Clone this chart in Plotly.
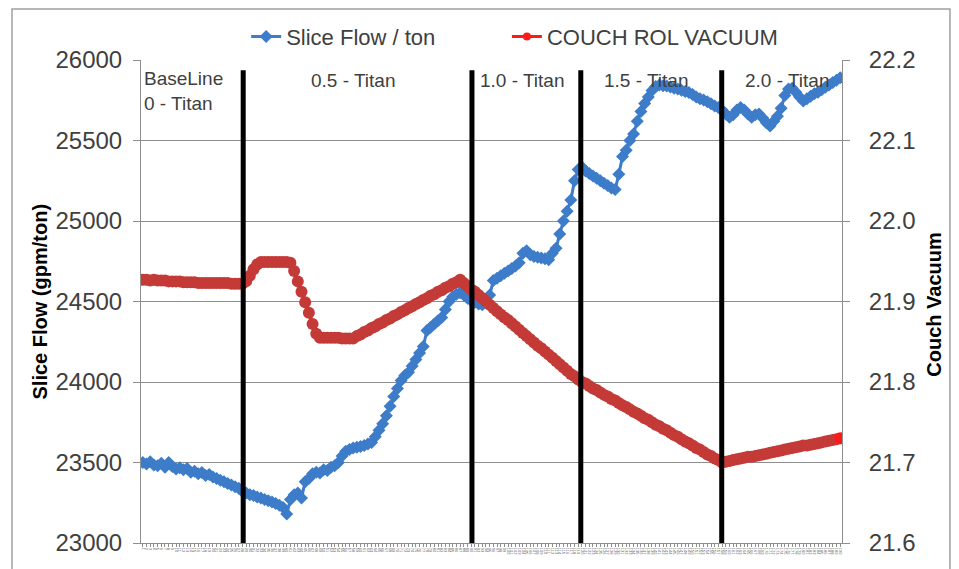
import plotly.graph_objects as go

# ---------------- data ----------------
slice_flow = [
    23500, 23490, 23505, 23485, 23480, 23495, 23470, 23500, 23475, 23460,
    23468, 23455, 23462, 23440, 23445, 23430, 23438, 23420, 23425, 23410,
    23400, 23390, 23380, 23370, 23360, 23350, 23340, 23320,
    23310, 23300, 23295, 23285, 23280, 23270, 23262, 23255, 23245, 23235,
    23220, 23180, 23270, 23300, 23310, 23280, 23380, 23400, 23430, 23440,
    23435, 23455, 23450, 23470, 23480, 23500, 23540, 23570, 23580, 23590,
    23595, 23600, 23605, 23615, 23625, 23660, 23700, 23740, 23790, 23850,
    23910, 23960, 24010, 24040, 24060, 24100, 24140, 24180, 24220, 24320,
    24340, 24360, 24380, 24400, 24450, 24500, 24530, 24545, 24555, 24540,
    24520,
    24505, 24495, 24485, 24480, 24510, 24540, 24630, 24645, 24660, 24675,
    24690, 24705, 24720, 24740, 24800, 24815, 24790, 24780, 24775, 24770,
    24765, 24760, 24800, 24830, 24920, 25000, 25060, 25130, 25250, 25320,
    25335, 25310, 25295, 25280, 25265, 25250, 25235, 25220, 25205, 25195,
    25290, 25400, 25440, 25500, 25540, 25620, 25680, 25730, 25770, 25810,
    25835, 25845, 25840, 25838, 25832, 25825, 25820, 25812, 25805, 25798,
    25785, 25770, 25760, 25752, 25740, 25728, 25715, 25705,
    25690, 25665, 25645, 25660, 25690, 25705, 25690, 25665, 25645, 25660,
    25665, 25640, 25610, 25590, 25620, 25650, 25700, 25780, 25820, 25825,
    25800, 25770, 25745, 25760, 25775, 25790, 25800, 25815, 25830, 25845,
    25860, 25875, 25890,
]

couch_vacuum = [
    21.927, 21.927, 21.926, 21.927, 21.926, 21.926, 21.926, 21.925, 21.925, 21.925,
    21.925, 21.924, 21.924, 21.924, 21.924, 21.923, 21.923, 21.923, 21.923, 21.923,
    21.923, 21.923, 21.923, 21.923, 21.922, 21.922, 21.922, 21.922,
    21.925, 21.932, 21.940, 21.946, 21.949, 21.949, 21.949, 21.949, 21.949, 21.949,
    21.949, 21.949, 21.948, 21.938, 21.925, 21.912, 21.899, 21.886, 21.872, 21.860,
    21.855, 21.855, 21.855, 21.855, 21.855, 21.855, 21.854, 21.854, 21.854, 21.854,
    21.857, 21.859, 21.862, 21.864, 21.867, 21.869, 21.872, 21.874, 21.877, 21.879,
    21.882, 21.884, 21.887, 21.889, 21.892, 21.894, 21.897, 21.899, 21.902, 21.904,
    21.907, 21.909, 21.912, 21.914, 21.917, 21.919, 21.922, 21.924, 21.927, 21.923,
    21.919,
    21.915, 21.912, 21.908, 21.904, 21.900, 21.896, 21.892, 21.888, 21.884, 21.880,
    21.877, 21.873, 21.869, 21.865, 21.861, 21.857, 21.853, 21.849, 21.845, 21.842,
    21.838, 21.834, 21.830, 21.826, 21.822, 21.818, 21.814, 21.810, 21.807, 21.803,
    21.800, 21.798, 21.795, 21.792, 21.790, 21.787, 21.784, 21.782, 21.779, 21.777,
    21.774, 21.771, 21.769, 21.766, 21.763, 21.761, 21.758, 21.755, 21.753, 21.750,
    21.747, 21.745, 21.742, 21.740, 21.737, 21.734, 21.732, 21.729, 21.726, 21.724,
    21.721, 21.718, 21.716, 21.713, 21.710, 21.708, 21.705, 21.703,
    21.700, 21.701, 21.702, 21.703, 21.704, 21.705, 21.706, 21.707, 21.707, 21.708,
    21.709, 21.710, 21.711, 21.712, 21.713, 21.714, 21.715, 21.716, 21.717, 21.718,
    21.719, 21.720, 21.721, 21.721, 21.722, 21.723, 21.724, 21.725, 21.726, 21.727,
    21.728, 21.729, 21.730,
]

sample_labels = [str(i + 1) for i in range(max(len(slice_flow), len(couch_vacuum)))]

phase_names = ["BaseLine<br>0 - Titan", "0.5 - Titan", "1.0 - Titan", "1.5 - Titan", "2.0 - Titan"]
phase_label_x = [-0.2, 57.0, 103.0, 136.4, 174.6]
phase_boundaries = [27.2, 89.2, 118.7, 156.9]

left_ticks = [23000, 23500, 24000, 24500, 25000, 25500, 26000]
right_ticks = [21.6, 21.7, 21.8, 21.9, 22.0, 22.1, 22.2]

# ---------------- figure ----------------
FONT = "Liberation Sans, Arial, sans-serif"
TXT = "#404040"
GRID = "#8e8e8e"
BLUE = "#3d7cc9"
RED_BAND = "rgb(196,58,55)"
RED = "#ff1a1a"

n = len(sample_labels)
x_idx = list(range(n))

fig = go.Figure()

fig.add_trace(go.Scatter(
    x=list(range(len(slice_flow))), y=slice_flow, name="Slice Flow / ton",
    mode="lines+markers",
    line=dict(color=BLUE, width=3),
    marker=dict(symbol="diamond", size=10, color=BLUE),
    yaxis="y", legend="legend",
))

# legend-only entry for the vacuum series
fig.add_trace(go.Scatter(
    x=[None], y=[None], name="COUCH ROL VACUUM", mode="lines+markers",
    line=dict(color=RED, width=3), marker=dict(symbol="circle", size=8, color=RED),
    yaxis="y2", legend="legend2",
))

vac_colors = [RED_BAND] * (len(couch_vacuum) - 1) + [RED]
fig.add_trace(go.Scatter(
    x=list(range(len(couch_vacuum))), y=couch_vacuum, name="COUCH ROL VACUUM",
    mode="lines+markers", showlegend=False,
    line=dict(color=RED_BAND, width=4),
    marker=dict(symbol="circle", size=12, color=vac_colors, line=dict(width=0)),
    yaxis="y2",
))

shapes = []
for b in phase_boundaries:
    shapes.append(dict(type="line", xref="x", yref="paper", x0=b, x1=b, y0=0, y1=0.979,
                       line=dict(color="black", width=5), layer="above"))
# outer chart frame
shapes.append(dict(type="rect", xref="paper", yref="paper",
                   x0=-0.184, x1=1.154, y0=-0.3, y1=1.1056,
                   line=dict(color="#a0a0a0", width=1.5), layer="below"))

annotations = []
for i, (name, xp) in enumerate(zip(phase_names, phase_label_x)):
    if i == 0:
        annotations.append(dict(x=xp, y=0.935, xref="x", yref="paper", text=name,
                                showarrow=False, xanchor="left", yanchor="middle", align="left",
                                font=dict(family=FONT, size=19, color=TXT)))
    else:
        annotations.append(dict(x=xp, y=0.958, xref="x", yref="paper", text=name,
                                showarrow=False, xanchor="center", yanchor="middle",
                                font=dict(family=FONT, size=19, color=TXT)))

annotations.append(dict(x=-0.1455, y=0.5, xref="paper", yref="paper", text="<b>Slice Flow (gpm/ton)</b>",
                        textangle=-90, showarrow=False, xanchor="center", yanchor="middle",
                        font=dict(family=FONT, size=20, color="#000000")))
annotations.append(dict(x=1.131, y=0.493, xref="paper", yref="paper", text="<b>Couch Vacuum</b>",
                        textangle=-90, showarrow=False, xanchor="center", yanchor="middle",
                        font=dict(family=FONT, size=20, color="#000000")))

legend_common = dict(orientation="h", xanchor="left", y=1.048, yanchor="middle",
                     font=dict(family=FONT, size=22, color=TXT), bgcolor="rgba(0,0,0,0)")

# the page body adds an 8px offset, so the figure is sized/margined to compensate
fig.update_layout(
    width=951, height=561, autosize=False,
    margin=dict(l=133, r=117, t=52, b=26, autoexpand=False),
    paper_bgcolor="white", plot_bgcolor="white",
    font=dict(family=FONT, color=TXT),
    showlegend=True,
    legend=dict(x=0.150, **legend_common),
    legend2=dict(x=0.522, **legend_common),
    xaxis=dict(range=[-0.5, n - 0.5], showgrid=False, zeroline=False, automargin=False,
               showline=True, linecolor=GRID, linewidth=1,
               tickmode="array", tickvals=x_idx, ticktext=sample_labels,
               tickangle=90, tickfont=dict(size=4, color="#606060"),
               ticks="outside", ticklen=3, tickcolor=GRID),
    yaxis=dict(range=[23000, 26000], tickmode="array", tickvals=left_ticks, tickformat="d",
               showgrid=True, gridcolor=GRID, gridwidth=1, zeroline=False, automargin=False,
               showline=True, linecolor=GRID, ticks="outside", ticklen=7, tickcolor=GRID,
               ticklabelstandoff=6,
               tickfont=dict(family=FONT, size=24, color=TXT)),
    yaxis2=dict(range=[21.6, 22.2], overlaying="y", side="right", tickmode="array",
                tickvals=right_ticks, tickformat=".1f", showgrid=False, zeroline=False,
                automargin=False,
                showline=True, linecolor=GRID, ticks="outside", ticklen=7, tickcolor=GRID,
                ticklabelstandoff=14,
                tickfont=dict(family=FONT, size=24, color=TXT)),
    shapes=shapes,
    annotations=annotations,
)

fig.write_html("out.html")
